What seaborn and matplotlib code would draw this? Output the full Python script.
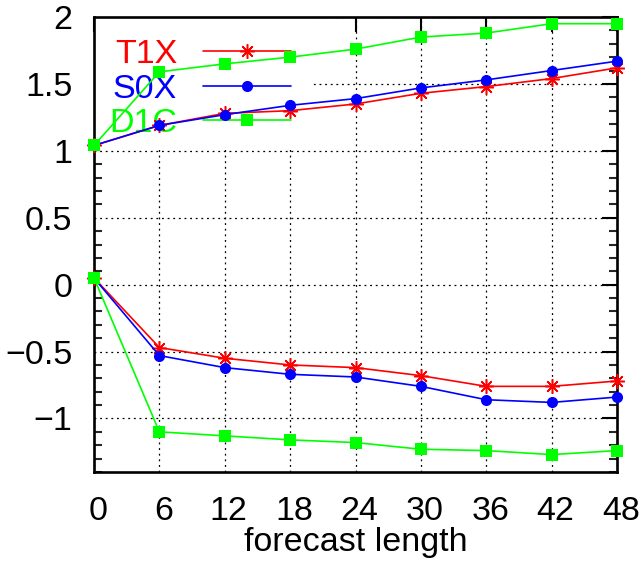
import numpy as np
import pandas as pd
import matplotlib
matplotlib.use("Agg")
import matplotlib.pyplot as plt
import matplotlib.transforms as mtransforms
from matplotlib.lines import Line2D
from matplotlib.patches import Rectangle
from matplotlib.ticker import MultipleLocator
import seaborn as sns

hours = [0, 6, 12, 18, 24, 30, 36, 42, 48]
models = ["T1X", "S0X", "D1C"]
t1x_upper = [1.04, 1.19, 1.28, 1.30, 1.35, 1.43, 1.48, 1.54, 1.62]
s0x_upper = [1.04, 1.19, 1.27, 1.34, 1.39, 1.47, 1.53, 1.60, 1.67]
d1c_upper = [1.04, 1.59, 1.65, 1.70, 1.76, 1.85, 1.88, 1.95, 1.95]
t1x_lower = [0.05, -0.47, -0.55, -0.60, -0.62, -0.68, -0.76, -0.76, -0.72]
s0x_lower = [0.05, -0.53, -0.62, -0.67, -0.69, -0.76, -0.86, -0.88, -0.84]
d1c_lower = [0.05, -1.10, -1.13, -1.16, -1.18, -1.23, -1.24, -1.27, -1.24]
xticks = [0, 6, 12, 18, 24, 30, 36, 42, 48]
yticks = [-1, -0.5, 0, 0.5, 1, 1.5, 2]
xlabel = "forecast length"

colors = {"T1X": "#ff0000", "S0X": "#0000ff", "D1C": "#00ff00"}
markers = {"T1X": (8, 2, 0), "S0X": "o", "D1C": "s"}
msizes = {"T1X": 10.5, "S0X": 8, "D1C": 8}
medge = {"T1X": 1.1, "S0X": 0, "D1C": 0}

series = {
    ("T1X", "upper"): t1x_upper, ("T1X", "lower"): t1x_lower,
    ("S0X", "upper"): s0x_upper, ("S0X", "lower"): s0x_lower,
    ("D1C", "upper"): d1c_upper, ("D1C", "lower"): d1c_lower,
}
rows = []
for (m, b), vals in series.items():
    for h, v in zip(hours, vals):
        rows.append({"hour": h, "value": v, "model": m, "branch": b})
df = pd.DataFrame(rows)

sns.set_theme(style="white")
plt.rcParams["font.family"] = ["Liberation Sans", "DejaVu Sans"]
plt.rcParams["axes.unicode_minus"] = True

FS = 24.5
fig = plt.figure(figsize=(6.41, 5.62), dpi=100)
ax = fig.add_axes([94 / 641, 1 - 472 / 562, (617 - 94) / 641, (472 - 17) / 562])
ax.set_axisbelow(True)

for m in ["T1X", "S0X", "D1C"]:
    sub = df[df.model == m]
    sns.lineplot(data=sub, x="hour", y="value", units="branch", estimator=None,
                 color=colors[m], marker=markers[m], markersize=msizes[m],
                 markeredgecolor=colors[m], markeredgewidth=medge[m],
                 linewidth=1.2, ax=ax, legend=False, zorder=3, clip_on=False)

ax.set_xlim(0, 48)
ax.set_ylim(-1.4, 2)
ax.set_xticks(xticks)
ax.set_yticks(yticks)
ax.set_yticklabels([f"{t:g}".replace("-", "\u2212") for t in yticks])
ax.yaxis.set_minor_locator(MultipleLocator(0.1))
ax.tick_params(axis="both", which="major", direction="in", length=10.5, width=1.5,
               top=True, right=True, labelsize=FS, colors="black")
ax.tick_params(axis="y", which="major", pad=15.5)
ax.tick_params(axis="x", which="major", pad=17)
ax.tick_params(axis="y", which="minor", direction="in", length=5.5, width=1.5,
               left=True, right=True)
ax.tick_params(axis="x", which="minor", bottom=False, top=False)
offset = mtransforms.ScaledTranslation(4 / 100, 0, fig.dpi_scale_trans)
for lab in ax.get_xticklabels():
    lab.set_transform(lab.get_transform() + offset)
for s in ax.spines.values():
    s.set_linewidth(1.9)
    s.set_color("black")
ax.grid(True, which="major", color="black", linestyle=(0, (1.5, 3)), linewidth=0.9)
ax.set_xlabel(xlabel, fontsize=FS, labelpad=0, color="black")
ax.set_ylabel("")

# white key box hiding the grid behind the legend (as in the original)
ax.add_patch(Rectangle((0, (472 - 147) / 455), (313 - 94) / 523, 1 - (472 - 147) / 455,
                       transform=ax.transAxes, facecolor="white", edgecolor="none",
                       zorder=1))

handles = [Line2D([0], [0], color=colors[m], marker=markers[m], markersize=msizes[m],
                  markeredgecolor=colors[m], markeredgewidth=medge[m],
                  linewidth=1.2) for m in models]
leg = ax.legend(handles, models, loc="upper left", bbox_to_anchor=(-7 / 523, 1.0),
                markerfirst=False, numpoints=1,
                fontsize=FS, handlelength=2.6, handletextpad=0.75, labelspacing=0.1,
                borderaxespad=0, borderpad=0.65, frameon=False,
                labelcolor="linecolor")
leg.set_zorder(1.5)

fig.savefig("out.png", dpi=100)
